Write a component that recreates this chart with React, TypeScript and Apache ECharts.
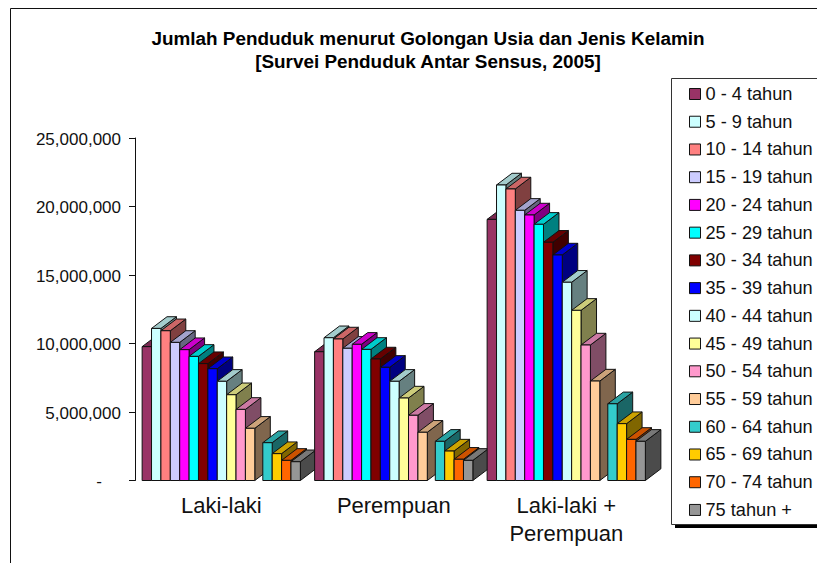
import React, { useEffect, useRef } from "react";
import * as echarts from "echarts";

const titleLines = ["Jumlah Penduduk menurut Golongan Usia dan Jenis Kelamin", "[Survei Penduduk Antar Sensus, 2005]"];
const categories = ["Laki-laki", "Perempuan", "Laki-laki +\nPerempuan"];
const ageGroups = ["0 - 4 tahun", "5 - 9 tahun", "10 - 14 tahun", "15 - 19 tahun", "20 - 24 tahun", "25 - 29 tahun", "30 - 34 tahun", "35 - 39 tahun", "40 - 44 tahun", "45 - 49 tahun", "50 - 54 tahun", "55 - 59 tahun", "60 - 64 tahun", "65 - 69 tahun", "70 - 74 tahun", "75 tahun +"];
const colors = ["#993366", "#CCFFFF", "#FF8080", "#CCCCFF", "#FF00FF", "#00FFFF", "#800000", "#0000FF", "#CCFFFF", "#FFFF99", "#FF99CC", "#FFCC99", "#33CCCC", "#FFCC00", "#FF6600", "#969696"];
const lakiLaki = [9770000, 11100000, 10930000, 10080000, 9550000, 9060000, 8530000, 8160000, 7240000, 6260000, 5190000, 3810000, 2760000, 1960000, 1470000, 1370000];
const perempuan = [9400000, 10420000, 10330000, 9650000, 9940000, 9570000, 8870000, 8260000, 7240000, 6020000, 4760000, 3520000, 2860000, 2150000, 1550000, 1470000];
const gabungan = [19060000, 21570000, 21280000, 19720000, 19380000, 18700000, 17390000, 16460000, 14470000, 12420000, 9890000, 7260000, 5600000, 4150000, 3000000, 2860000];
const valueRows = [lakiLaki, perempuan, gabungan];
const yTicks: Record<number, string> = { 0: "-{pad|}", 5000000: "5,000,000", 10000000: "10,000,000", 15000000: "15,000,000", 20000000: "20,000,000", 25000000: "25,000,000" };

const FONT = '"Liberation Sans", Arial, sans-serif';
const GRID = { left: 135, top: 138, width: 517.5, height: 342.5 };
const SLOT = 9.39;
const BLANK_GAP = 8;
const GROUP_W = 16 * SLOT + BLANK_GAP;
const DX = 15.5;
const DY = 11.7;

function shade(hex: string, f: number) {
  const n = parseInt(hex.slice(1), 16);
  const c = [(n >> 16) & 255, (n >> 8) & 255, n & 255].map((v) => Math.round(v * f));
  return `rgb(${c[0]},${c[1]},${c[2]})`;
}

function makeRenderItem(age: number) {
  return (_params: any, api: any) => {
    const cat = api.value(0);
    const top = api.coord([cat, api.value(1)]);
    const base = api.coord([cat, 0]);
    const x0 = top[0] - GROUP_W / 2 + age * SLOT + (age >= 12 ? BLANK_GAP : 0);
    const x1 = x0 + SLOT;
    const y0 = top[1];
    const y1 = base[1];
    const z2 = cat * 100 + age;
    const stroke = { stroke: "#111", lineWidth: 1, lineJoin: "miter" };
    return {
      type: "group",
      children: [
        { type: "polygon", z2, shape: { points: [[x1, y0], [x1 + DX, y0 - DY], [x1 + DX, y1 - DY], [x1, y1]] }, style: { fill: shade(colors[age], 0.5), ...stroke } },
        { type: "polygon", z2, shape: { points: [[x0, y0], [x0 + DX, y0 - DY], [x1 + DX, y0 - DY], [x1, y0]] }, style: { fill: shade(colors[age], 0.8), ...stroke } },
        { type: "rect", z2, shape: { x: x0, y: y0, width: SLOT, height: y1 - y0 }, style: { fill: colors[age], ...stroke } },
      ],
    };
  };
}

export default function App() {
  const ref = useRef<HTMLDivElement>(null);
  useEffect(() => {
    document.body.style.margin = "0";
    const chart = echarts.init(ref.current!, null, { renderer: "svg" });
    chart.setOption({
      animation: false,
      backgroundColor: "#fff",
      textStyle: { fontFamily: FONT },
      grid: GRID,
      xAxis: {
        type: "category",
        data: categories,
        axisLine: { show: false },
        axisTick: { show: false },
        axisLabel: { color: "#111", fontSize: 22, fontFamily: FONT, lineHeight: 28, margin: 11 },
      },
      yAxis: {
        type: "value",
        min: 0,
        max: 25000000,
        interval: 5000000,
        splitLine: { show: false },
        axisLine: { show: true, lineStyle: { color: "#111", width: 1 } },
        axisTick: { show: true, length: 6, lineStyle: { color: "#111", width: 1 } },
        axisLabel: {
          color: "#111", fontSize: 17, fontFamily: FONT, margin: 14,
          padding: [2, 0, 0, 0],
          formatter: (v: number) => yTicks[v],
          rich: { pad: { width: 19 } },
        },
      },
      legend: {
        orient: "vertical",
        left: 689,
        top: 85,
        padding: 0,
        itemWidth: 11,
        itemHeight: 11,
        itemGap: 9.73,
        icon: "rect",
        selectedMode: false,
        data: ageGroups,
        itemStyle: { borderColor: "#111", borderWidth: 1 },
        textStyle: { color: "#111", fontSize: 18.2, fontFamily: FONT, lineHeight: 18, padding: [0, 0, 0, 0] },
      },
      graphic: [
        { type: "polyline", silent: true, z: -1, shape: { points: [[10.5, 563], [10.5, 8.5], [817, 8.5]] }, style: { fill: "none", stroke: "#111", lineWidth: 1 } },
        { type: "rect", silent: true, z: -1, shape: { x: 675, y: 81, width: 150, height: 447 }, style: { fill: "#000" } },
        { type: "rect", silent: true, z: -1, shape: { x: 671.5, y: 78.5, width: 150, height: 446 }, style: { fill: "#fff", stroke: "#333", lineWidth: 1 } },
        { type: "text", silent: true, style: { text: titleLines[0], x: 428, y: 38, align: "center", verticalAlign: "middle", font: `bold 18.9px ${FONT}`, fill: "#000" } },
        { type: "text", silent: true, style: { text: titleLines[1], x: 428, y: 61, align: "center", verticalAlign: "middle", font: `bold 18.9px ${FONT}`, fill: "#000" } },
      ],
      series: ageGroups.map((name, age) => ({
        name,
        type: "custom",
        clip: false,
        renderItem: makeRenderItem(age),
        itemStyle: { color: colors[age] },
        encode: { x: 0, y: 1 },
        data: categories.map((_, c) => [c, valueRows[c][age]]),
      })),
    });
    return () => chart.dispose();
  }, []);
  return <div ref={ref} style={{ width: 817, height: 563, position: "absolute", left: 0, top: 0, overflow: "hidden" }} />;
}
